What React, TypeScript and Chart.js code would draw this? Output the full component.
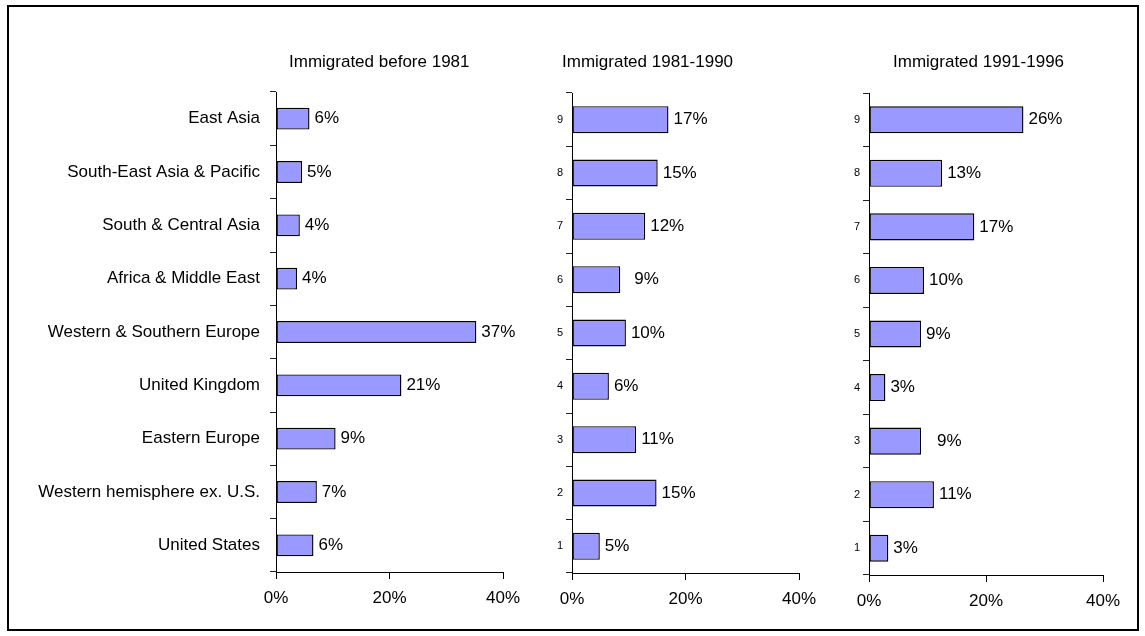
import React, { useEffect, useRef } from "react";
import { Chart, registerables } from "chart.js";

Chart.register(...registerables);

// ---------- data ----------
const regions = [
  "East Asia",
  "South-East Asia & Pacific",
  "South & Central Asia",
  "Africa & Middle East",
  "Western & Southern Europe",
  "United Kingdom",
  "Eastern Europe",
  "Western hemisphere ex. U.S.",
  "United States",
];
const rowNumbers = ["9", "8", "7", "6", "5", "4", "3", "2", "1"];

const before1981 = [5.9, 4.6, 4.2, 3.7, 35.3, 22.1, 10.5, 7.2, 6.6];
const before1981Labels = ["6%", "5%", "4%", "4%", "37%", "21%", "9%", "7%", "6%"];

const from1981to1990 = [17.0, 15.1, 12.9, 8.5, 9.5, 6.5, 11.3, 14.9, 4.9];
const from1981to1990Labels = ["17%", "15%", "12%", "9%", "10%", "6%", "11%", "15%", "5%"];

const from1991to1996 = [26.4, 12.5, 18.0, 9.4, 8.9, 2.8, 8.9, 11.1, 3.3];
const from1991to1996Labels = ["26%", "13%", "17%", "10%", "9%", "3%", "9%", "11%", "3%"];

const xTickValues = [0, 20, 40];
const panelTitles = ["Immigrated before 1981", "Immigrated 1981-1990", "Immigrated 1991-1996"];

// ---------- styling / layout ----------
const FONT = '"Liberation Sans", Arial, Helvetica, sans-serif';
const BAR_FILL = "#9999FF";

type PanelCfg = {
  title: string;
  categories: string[];
  values: number[];
  labels: string[];
  labelNudge: number[];
  catFontSize: number;
  catPadding: number;
  barPct: number;
  canvasLeft: number;
  canvasWidth: number;
  plotLeft: number;
  plotRight: number;
  plotTop: number;
  plotBottom: number;
  titleDx: number;
};

const CANVAS_TOP = 30;
const CANVAS_HEIGHT = 600;
const TITLE_BASELINE = 67;

const panels: PanelCfg[] = [
  {
    title: panelTitles[0],
    categories: regions,
    values: before1981,
    labels: before1981Labels,
    labelNudge: [0, 0, 0, 0, 0, 0, 0, 0, 0],
    catFontSize: 17,
    catPadding: 10,
    barPct: 0.41,
    canvasLeft: 14,
    canvasWidth: 530,
    plotLeft: 276,
    plotRight: 503,
    plotTop: 92,
    plotBottom: 572,
    titleDx: 13,
  },
  {
    title: panelTitles[1],
    categories: rowNumbers,
    values: from1981to1990,
    labels: from1981to1990Labels,
    labelNudge: [0, 0, 0, 9, 0, 0, 0, 0, 0],
    catFontSize: 11,
    catPadding: 3,
    barPct: 0.505,
    canvasLeft: 545,
    canvasWidth: 290,
    plotLeft: 572,
    plotRight: 799,
    plotTop: 93,
    plotBottom: 573,
    titleDx: -10,
  },
  {
    title: panelTitles[2],
    categories: rowNumbers,
    values: from1991to1996,
    labels: from1991to1996Labels,
    labelNudge: [0, 0, 0, 0, 0, 0, 11, 0, 0],
    catFontSize: 11,
    catPadding: 3,
    barPct: 0.505,
    canvasLeft: 840,
    canvasWidth: 298,
    plotLeft: 869,
    plotRight: 1103,
    plotTop: 93,
    plotBottom: 575,
    titleDx: 24,
  },
];

function Panel({ cfg }: { cfg: PanelCfg }) {
  const ref = useRef<HTMLCanvasElement | null>(null);

  useEffect(() => {
    const canvas = ref.current;
    if (!canvas) return;

    const yAxisWidth = cfg.plotLeft - cfg.canvasLeft;
    const padRight = cfg.canvasLeft + cfg.canvasWidth - cfg.plotRight;
    const padTop = cfg.plotTop - CANVAS_TOP;
    const xAxisHeight = CANVAS_TOP + CANVAS_HEIGHT - cfg.plotBottom;

    const overlay = {
      id: "overlay-" + cfg.title,
      afterDatasetsDraw(chart: any) {
        const ctx = chart.ctx as CanvasRenderingContext2D;
        const meta = chart.getDatasetMeta(0);
        ctx.save();
        ctx.fillStyle = "#000";
        ctx.font = `17px ${FONT}`;
        ctx.textAlign = "left";
        ctx.textBaseline = "middle";
        meta.data.forEach((bar: any, i: number) => {
          ctx.fillText(cfg.labels[i], bar.x + 5 + (cfg.labelNudge[i] || 0), bar.y);
        });
        ctx.textBaseline = "alphabetic";
        ctx.fillText(cfg.title, chart.chartArea.left + cfg.titleDx, TITLE_BASELINE - CANVAS_TOP);
        ctx.restore();
      },
    };

    const chart = new Chart(canvas, {
      type: "bar",
      data: {
        labels: cfg.categories,
        datasets: [
          {
            data: cfg.values,
            backgroundColor: BAR_FILL,
            borderColor: "#000",
            borderWidth: 1.4,
            borderSkipped: false,
            barPercentage: cfg.barPct,
            categoryPercentage: 1,
          },
        ],
      },
      options: {
        indexAxis: "y",
        responsive: false,
        maintainAspectRatio: false,
        animation: false,
        events: [],
        layout: {
          padding: { left: 0, right: padRight, top: padTop, bottom: 0 },
        },
        plugins: {
          legend: { display: false },
          tooltip: { enabled: false },
          title: { display: false },
        },
        scales: {
          x: {
            type: "linear",
            min: 0,
            max: 40,
            afterBuildTicks: (axis: any) => {
              axis.ticks = xTickValues.map((v) => ({ value: v }));
            },
            afterFit: (scale: any) => {
              scale.height = xAxisHeight;
            },
            ticks: {
              color: "#000",
              font: { family: FONT, size: 17 },
              padding: 9,
              maxRotation: 0,
              callback: (v: any) => v + "%",
            },
            grid: {
              display: true,
              drawOnChartArea: false,
              drawTicks: true,
              tickLength: 7,
              color: "#000",
              lineWidth: 1,
            },
            border: { display: true, color: "#000", width: 1 },
          },
          y: {
            type: "category",
            offset: true,
            afterFit: (scale: any) => {
              scale.width = yAxisWidth;
            },
            ticks: {
              color: "#000",
              font: { family: FONT, size: cfg.catFontSize },
              padding: cfg.catPadding,
              autoSkip: false,
            },
            grid: {
              display: true,
              offset: true,
              drawOnChartArea: false,
              drawTicks: true,
              tickLength: 6,
              color: "#222",
              lineWidth: 1,
            },
            border: { display: true, color: "#000", width: 1 },
          },
        },
      } as any,
      plugins: [overlay],
    });

    return () => chart.destroy();
  }, [cfg]);

  return (
    <canvas
      ref={ref}
      width={cfg.canvasWidth}
      height={CANVAS_HEIGHT}
      style={{
        position: "absolute",
        left: cfg.canvasLeft,
        top: CANVAS_TOP,
        width: cfg.canvasWidth,
        height: CANVAS_HEIGHT,
        display: "block",
      }}
    />
  );
}

export default function App() {
  return (
    <div
      style={{
        position: "absolute",
        left: 0,
        top: 0,
        width: 1145,
        height: 636,
        background: "#fff",
        overflow: "hidden",
      }}
    >
      <div
        style={{
          position: "absolute",
          left: 7,
          top: 5,
          width: 1132,
          height: 626,
          border: "2px solid #000",
          boxSizing: "border-box",
        }}
      />
      {panels.map((p) => (
        <Panel key={p.title} cfg={p} />
      ))}
    </div>
  );
}
